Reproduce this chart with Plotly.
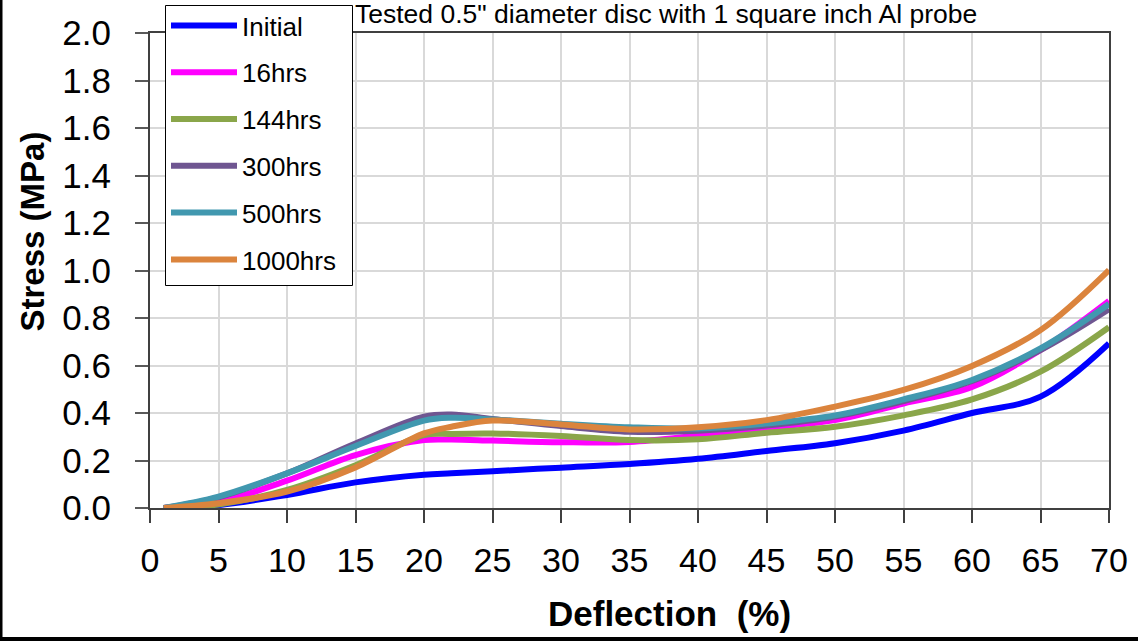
import plotly.graph_objects as go

deflection = [1, 5, 10, 15, 20, 22, 25, 30, 35, 40, 45, 50, 55, 60, 65, 70]

initial = [0.0, 0.012, 0.055, 0.108, 0.140, 0.146, 0.155, 0.170, 0.185, 0.207, 0.240, 0.273, 0.326, 0.400, 0.469, 0.693]
hrs16 = [0.0, 0.025, 0.115, 0.223, 0.286, 0.288, 0.284, 0.277, 0.278, 0.305, 0.338, 0.370, 0.440, 0.510, 0.665, 0.872]
hrs144 = [0.0, 0.015, 0.076, 0.180, 0.307, 0.312, 0.314, 0.303, 0.286, 0.289, 0.317, 0.342, 0.390, 0.457, 0.574, 0.761]
hrs300 = [0.0, 0.045, 0.146, 0.272, 0.385, 0.394, 0.375, 0.345, 0.321, 0.325, 0.347, 0.385, 0.450, 0.535, 0.665, 0.837]
hrs500 = [0.0, 0.048, 0.146, 0.261, 0.368, 0.380, 0.373, 0.355, 0.340, 0.335, 0.356, 0.390, 0.457, 0.539, 0.672, 0.859]
hrs1000 = [0.0, 0.020, 0.069, 0.171, 0.314, 0.342, 0.368, 0.352, 0.331, 0.340, 0.370, 0.427, 0.497, 0.598, 0.749, 1.002]

series_names = ["Initial", "16hrs", "144hrs", "300hrs", "500hrs", "1000hrs"]
series_values = [initial, hrs16, hrs144, hrs300, hrs500, hrs1000]
series_colors = ["#0000FF", "#FF00FF", "#8AA64A", "#6F5691", "#4198AF", "#DB843D"]

title_text = "Tested 0.5\" diameter disc with 1 square inch Al probe"
x_title = "Deflection  (%)"
y_title = "Stress (MPa)"

FONT = "Liberation Sans, Arial, sans-serif"

fig = go.Figure()
for i, (name, vals, col) in enumerate(zip(series_names, series_values, series_colors)):
    fig.add_trace(go.Scatter(
        x=deflection, y=vals, name=name, mode="lines",
        line=dict(color=col, width=6, shape="spline", smoothing=1.0),
        legendgroup=f"g{i}",
    ))

W, H = 1138, 641
L, R, T, B = 150, 29, 33, 133
pw, ph = W - L - R, H - T - B

def px_x(px):
    return (px - L) / pw

def px_y(py):
    return (H - B - py) / ph

fig.update_layout(
    width=W, height=H,
    margin=dict(l=L, r=R, t=T, b=B, pad=0, autoexpand=False),
    paper_bgcolor="white", plot_bgcolor="white",
    font=dict(family=FONT, color="black"),
    showlegend=True,
    legend=dict(
        x=px_x(166), y=px_y(2), xanchor="left", yanchor="top",
        bgcolor="rgba(0,0,0,0)", borderwidth=0,
        font=dict(size=26, family=FONT, color="black"),
        traceorder="grouped", tracegroupgap=10, itemwidth=66,
    ),
    xaxis=dict(
        range=[0, 70], dtick=5, tick0=0, automargin=False,
        showgrid=True, gridcolor="#D9D9D9", gridwidth=2,
        showline=True, linecolor="#404040", linewidth=2, mirror=True,
        ticks="outside", ticklen=13, tickwidth=2, tickcolor="#404040",
        tickfont=dict(size=34, family=FONT, color="black"),
        ticklabelstandoff=8,
        zeroline=False,
    ),
    yaxis=dict(
        range=[0, 2.0], dtick=0.2, tick0=0, tickformat=".1f", automargin=False,
        showgrid=True, gridcolor="#D9D9D9", gridwidth=2,
        showline=True, linecolor="#404040", linewidth=2, mirror=True,
        ticks="outside", ticklen=13, tickwidth=2, tickcolor="#595959",
        tickfont=dict(size=35, family=FONT, color="black"),
        ticklabelstandoff=17,
        zeroline=False,
    ),
    annotations=[
        dict(text=title_text, xref="paper", yref="paper",
             x=px_x(666), y=px_y(14), xanchor="center", yanchor="middle",
             showarrow=False, font=dict(size=26.5, family=FONT, color="black")),
        dict(text="<b>" + x_title + "</b>", xref="paper", yref="paper",
             x=px_x(669.5), y=px_y(613), xanchor="center", yanchor="middle",
             showarrow=False, font=dict(size=35, family=FONT, color="black")),
        dict(text="<b>" + y_title + "</b>", xref="paper", yref="paper",
             x=px_x(32), y=px_y(231.5), xanchor="center", yanchor="middle",
             textangle=-90,
             showarrow=False, font=dict(size=33, family=FONT, color="black")),
    ],
    shapes=[
        # legend frame
        dict(type="rect", xref="paper", yref="paper",
             x0=px_x(165.5), x1=px_x(352.5), y0=px_y(285.5), y1=px_y(5.5),
             fillcolor="white", line=dict(color="black", width=1), layer="above"),
        # outer picture frame (left and bottom edges)
        dict(type="rect", xref="paper", yref="paper",
             x0=px_x(0), x1=px_x(2.5), y0=px_y(641), y1=px_y(0),
             fillcolor="black", line=dict(width=0), layer="above"),
        dict(type="rect", xref="paper", yref="paper",
             x0=px_x(0), x1=px_x(1138), y0=px_y(641), y1=px_y(637),
             fillcolor="black", line=dict(width=0), layer="above"),
    ],
)

fig.write_html("out.html", config={"displayModeBar": False},
               post_script="document.body.style.margin='0';")
